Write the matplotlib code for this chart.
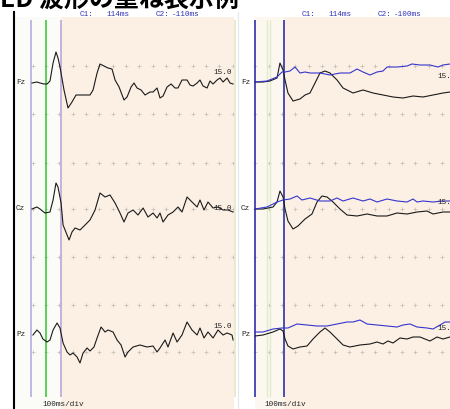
import matplotlib
matplotlib.use("Agg")
import matplotlib.pyplot as plt
from matplotlib.lines import Line2D
from matplotlib.transforms import blended_transform_factory

# ---------------- data (time in ms, amplitude in display units, up = positive) ----------------
channels = ["Fz", "Cz", "Pz"]
scale_label = "15.0"
div_label = "100ms/div"

left_cursor_c1 = 114
left_cursor_c2 = -110
right_cursor_c1 = 114
right_cursor_c2 = -100

# Left panel: single traces
left_fz_t = [-105, -68, -45, -15, 8, 30, 53, 75, 90, 105, 135, 165, 195, 225, 255, 293, 330, 353, 383,
             405, 435, 465, 495, 518, 548, 585, 608, 638, 660, 683, 713, 743, 780, 803, 833, 855, 878,
             908, 938, 968, 990, 1020, 1058, 1080, 1103, 1133, 1155, 1178, 1208, 1230, 1253, 1283,
             1305, 1328, 1358, 1380, 1403]
left_fz_v = [0, 1, 0, -1, -1, 2, 20, 31, 25, 16, -7, -25, -19, -12, -12, -12, -12, -7, 10,
             19, 17, 15, 14, 3, -4, -17, -14, -4, 0, -5, -7, -12, -9, -9, -5, -15, -13,
             -4, -1, -5, -5, 3, 3, -2, -3, 0, 3, -3, -5, 2, -1, 3,
             5, 1, 5, 0, -1]

left_cz_t = [-105, -68, -45, -8, 30, 53, 75, 90, 113, 128, 158, 173, 195, 218, 255, 293, 330, 368,
             405, 443, 480, 518, 555, 585, 615, 653, 690, 728, 765, 803, 833, 855, 878, 915, 953,
             990, 1020, 1058, 1095, 1133, 1155, 1185, 1215, 1253, 1290, 1328, 1365, 1403]
left_cz_v = [0, 2, 0, -4, -3, 9, 26, 22, 6, -16, -26, -31, -23, -19, -21, -16, -11, -1,
             16, 12, 14, 6, -4, -13, -4, -1, -6, 1, -8, -4, -9, -4, -13, -6, -3,
             2, -3, 12, 7, 2, 9, -1, 7, 1, 2, -1, -1, -3]

left_pz_t = [-98, -68, -45, -23, 8, 30, 53, 83, 105, 128, 158, 180, 203, 233, 255, 278, 308, 330,
             360, 383, 413, 443, 465, 503, 533, 563, 593, 615, 653, 705, 758, 803, 833, 855, 893,
             915, 953, 983, 1020, 1043, 1058, 1095, 1133, 1155, 1185, 1215, 1253, 1290, 1328,
             1358, 1395, 1403]
left_pz_v = [0, 5, 2, -4, -7, -5, 5, 12, 7, -8, -17, -20, -18, -22, -28, -18, -13, -16,
             -12, -3, 8, 3, 5, 3, -5, -10, -22, -17, -12, -10, -12, -11, -17, -13, -5,
             -12, 2, -7, 0, 8, 13, 5, 0, 7, -3, 3, -3, 5, 0,
             2, 0, -5]

# Right panel: overlaid traces (black + blue)
right_fz_black_t = [-101, -41, 11, 64, 86, 109, 124, 146, 184, 236, 274, 311, 349, 386, 424, 461, 514,
                    559, 634, 709, 784, 859, 934, 1009, 1084, 1159, 1234, 1309, 1361]
right_fz_black_v = [1, 1, 2, 5, 20, 13, 3, -10, -18, -16, -12, -10, 0, 10, 12, 10, 3,
                    -5, -10, -7, -10, -12, -14, -15, -13, -14, -12, -10, -9]
right_fz_blue_t = [-101, -11, 64, 101, 124, 161, 199, 236, 274, 311, 386, 461, 536, 611, 664, 709,
                   761, 814, 859, 889, 964, 1039, 1076, 1136, 1211, 1271, 1309, 1361]
right_fz_blue_v = [1, 2, 6, 11, 11, 12, 16, 10, 11, 10, 10, 8, 10, 10, 14, 11,
                   8, 11, 12, 16, 16, 17, 19, 18, 18, 16, 18, 19]

right_cz_black_t = [-101, -41, 34, 64, 86, 109, 124, 146, 184, 221, 274, 326, 364, 401, 439, 484, 536,
                    589, 664, 739, 814, 889, 964, 1039, 1114, 1189, 1234, 1309, 1361]
right_cz_black_v = [0, 0, 2, 7, 18, 12, 0, -12, -20, -17, -10, -5, 7, 13, 12, 7, 0,
                    -6, -7, -5, -7, -7, -4, -5, -3, -2, -5, -3, -3]
right_cz_blue_t = [-101, -11, 64, 109, 161, 214, 251, 311, 386, 461, 514, 559, 634, 709, 761, 814,
                   889, 964, 1039, 1084, 1114, 1159, 1234, 1309, 1361]
right_cz_blue_v = [0, 2, 7, 9, 10, 13, 9, 11, 8, 8, 11, 8, 11, 8, 10, 7,
                   10, 8, 7, 10, 7, 8, 7, 8, 8]

right_pz_black_t = [-101, -41, 34, 86, 109, 124, 146, 184, 236, 289, 334, 386, 424, 461, 514, 559,
                    611, 686, 761, 814, 859, 896, 934, 986, 1039, 1084, 1136, 1211, 1264, 1309, 1361]
right_pz_black_v = [-1, 0, 3, 6, 4, -4, -11, -14, -12, -11, -4, 3, 7, 3, -4, -10,
                    -12, -10, -9, -7, -9, -6, -8, -3, -4, -2, -2, -6, -2, -4, -2]
right_pz_blue_t = [-101, -41, 34, 101, 146, 214, 289, 364, 439, 514, 589, 634, 686, 739, 814, 889,
                   964, 1009, 1061, 1114, 1189, 1234, 1286, 1324, 1361]
right_pz_blue_v = [3, 3, 6, 7, 7, 11, 10, 9, 9, 11, 13, 13, 15, 11, 10, 9,
                   8, 10, 11, 8, 7, 6, 10, 13, 13]

# ---------------- layout / style ----------------
W, H = 450, 409
fig = plt.figure(figsize=(W / 100, H / 100), dpi=100)
fig.patch.set_facecolor("white")

MS_PER_PX = 7.5
baselines = {"Fz": 83, "Cz": 209, "Pz": 335}
grid_rows = [66, 114, 163, 209, 257, 305, 352]
peach = "#fcf0e5"
cream = "#fdf8ef"
mono = "Liberation Mono"
bg_top = 1 - 17 / H


def make_axes(x0, x1, zero_px):
    ax = fig.add_axes([x0 / W, 0, (x1 - x0) / W, 1])
    ax.set_xlim((x0 - zero_px) * MS_PER_PX, (x1 - zero_px) * MS_PER_PX)
    ax.set_ylim(H, 0)
    ax.axis("off")
    return ax


axL = make_axes(14, 238, 46)
axR = make_axes(238, 450, 268.5)

# backgrounds
axL.axvspan(axL.get_xlim()[0], left_cursor_c1, ymin=0, ymax=bg_top, color="#fbfbf7", zorder=0, lw=0)
axL.axvspan(left_cursor_c1, 1410, ymin=0, ymax=bg_top, color=peach, zorder=0, lw=0)
axR.axvspan(right_cursor_c2, right_cursor_c1, ymin=0, ymax=bg_top, color=cream, zorder=0, lw=0)
axR.axvspan(right_cursor_c1, axR.get_xlim()[1], ymin=0, ymax=bg_top, color=peach, zorder=0, lw=0)

# grid crosses
for ax, ticks in ((axL, range(-100, 1401, 100)), (axR, range(-100, 1301, 100))):
    tt = [t for t in ticks for _ in grid_rows]
    yy = [r for _ in ticks for r in grid_rows]
    ax.scatter(tt, yy, marker="+", s=5, linewidths=0.5, color="#c2bbb3", zorder=1)

# cursor lines
axL.vlines([left_cursor_c2], 20, 397, color="#b4aee0", lw=1.2, zorder=2)
axL.vlines([0], 20, 397, color="#3ccc3c", lw=1.2, zorder=2)
axL.vlines([left_cursor_c1], 20, 397, color="#bca6dc", lw=1.2, zorder=2)
axL.vlines([1418], 20, 397, color="#dfe9c8", lw=1.2, zorder=2)
axR.vlines([-12, 12], 20, 397, color="#e0ebcc", lw=1.0, zorder=2)
axR.vlines([right_cursor_c2, right_cursor_c1], 20, 397, color="#3f3fae", lw=1.3, zorder=2)

# traces
left_data = {"Fz": (left_fz_t, left_fz_v), "Cz": (left_cz_t, left_cz_v), "Pz": (left_pz_t, left_pz_v)}
right_black = {"Fz": (right_fz_black_t, right_fz_black_v), "Cz": (right_cz_black_t, right_cz_black_v),
               "Pz": (right_pz_black_t, right_pz_black_v)}
right_blue = {"Fz": (right_fz_blue_t, right_fz_blue_v), "Cz": (right_cz_blue_t, right_cz_blue_v),
              "Pz": (right_pz_blue_t, right_pz_blue_v)}

for ch in channels:
    b = baselines[ch]
    t, v = left_data[ch]
    axL.plot(t, [b - x for x in v], color="#1a1a1a", lw=0.8, zorder=3)
    t, v = right_black[ch]
    axR.plot(t, [b - x for x in v], color="#1a1a1a", lw=0.8, zorder=3)
    t, v = right_blue[ch]
    axR.plot(t, [b - x for x in v], color="#3535cc", lw=0.8, zorder=4)

# channel labels and scale labels
lab_left_y = {"Fz": 73, "Cz": 209, "Pz": 327}
lab_right_y = {"Fz": 76, "Cz": 202, "Pz": 329}
trL = blended_transform_factory(axL.transAxes, axL.transData)
trR = blended_transform_factory(axR.transAxes, axR.transData)
for ch in channels:
    axL.text(2 / 224, baselines[ch], ch, transform=trL, fontsize=5.5, family=mono,
             va="center", ha="left", color="#222222", zorder=5)
    axR.text(3 / 212, baselines[ch], ch, transform=trR, fontsize=5.5, family=mono,
             va="center", ha="left", color="#222222", zorder=5)
    axL.text(199 / 224, lab_left_y[ch], scale_label, transform=trL, fontsize=5.5, family=mono,
             va="center", ha="left", color="#222222", zorder=5)
    axR.text(199 / 212, lab_right_y[ch], scale_label[:3], transform=trR, fontsize=5.5, family=mono,
             va="center", ha="left", color="#222222", zorder=5)

# header cursor readouts
def fx(px):
    return px / W

def fy(py):
    return 1 - py / H

hdr_col = "#3030b8"
hdr = [(80, "C1:"), (106, f"{left_cursor_c1}ms"), (156, "C2:"), (172, f"{left_cursor_c2}ms"),
       (302, "C1:"), (328, f"{right_cursor_c1}ms"), (378, "C2:"), (394, f"{right_cursor_c2}ms")]
for px, s in hdr:
    fig.text(fx(px), fy(14.5), s, fontsize=5.5, family=mono, color=hdr_col, va="center")

# bottom scale labels
fig.text(fx(42), fy(405), div_label, fontsize=5.5, family=mono, color="#222222", va="center")
fig.text(fx(264), fy(405), div_label, fontsize=5.5, family=mono, color="#222222", va="center")

# left black border
fig.add_artist(Line2D([fx(14), fx(14)], [0, fy(12)], color="black", lw=1.5, transform=fig.transFigure))
# faint separator between panels
fig.add_artist(Line2D([fx(238), fx(238)], [0, fy(12)], color="#e6e6e6", lw=0.8, transform=fig.transFigure))

# title (cropped at top edge)
fig.text(fx(0), fy(6.5), "ED 波形の重ね表示例", fontsize=18, weight="bold",
         family=["Noto Sans CJK JP", "DejaVu Sans"], va="baseline", ha="left", color="black")

fig.savefig("out.png", dpi=100)
